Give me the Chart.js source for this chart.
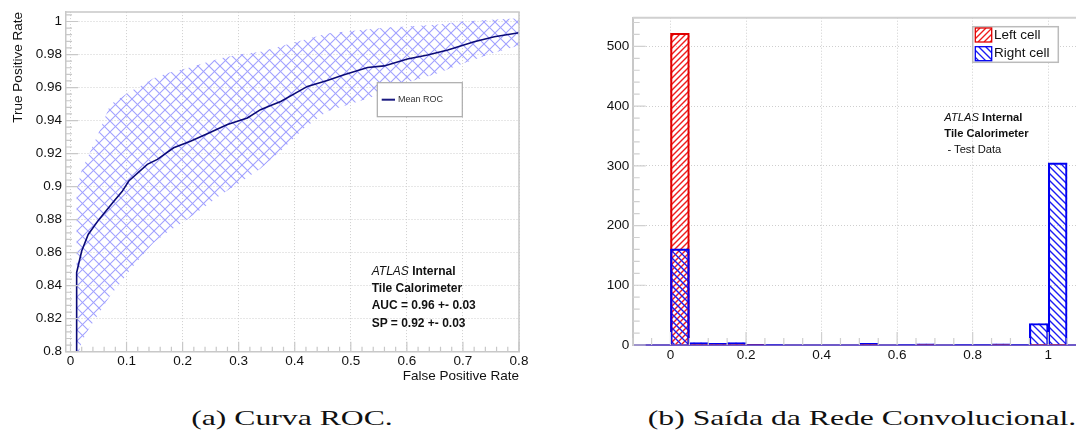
<!DOCTYPE html>
<html>
<head>
<meta charset="utf-8">
<title>Curva ROC e saída da rede</title>
<script src="https://cdn.jsdelivr.net/npm/chart.js@4.4.1/dist/chart.umd.min.js"></script>
<style>
  html, body { margin: 0; padding: 0; background: #fff; width: 1076px; height: 444px; overflow: hidden; position: relative; }
  .box { position: absolute; }
  #rocBox { left: 0; top: 0; width: 540px; height: 400px; }
  #histBox { left: 540px; top: 0; width: 560px; height: 400px; }
  .note { position: absolute; font-family: "Liberation Sans", Arial, sans-serif; color: #111; white-space: nowrap; z-index: 2; }
  .note i { font-style: italic; font-weight: normal; }
  .note b { font-weight: bold; }
  .caption { position: absolute; top: 407px; font-family: "Liberation Serif", serif; font-size: 22px; line-height: 22px; color: #111; white-space: nowrap; transform: translateX(-50%) scaleX(1.44); }
</style>
</head>
<body>
<div class="box" id="rocBox"><canvas id="rocChart"></canvas></div>
<div class="box" id="histBox"><canvas id="histChart"></canvas></div>

<div class="note" style="left:371.7px; top:263px; font-size:12px; line-height:17.2px;">
  <div><i>ATLAS</i> <b>Internal</b></div>
  <div><b>Tile Calorimeter</b></div>
  <div><b>AUC = 0.96 +- 0.03</b></div>
  <div><b>SP = 0.92 +- 0.03</b></div>
</div>
<div class="note" style="left:944.3px; top:109.3px; font-size:11.2px; line-height:16px;">
  <div><i>ATLAS</i> <b>Internal</b></div>
  <div><b>Tile Calorimeter</b></div>
  <div>&nbsp;- Test Data</div>
</div>

<div class="caption" style="left:291.5px;">(a) Curva ROC.</div>
<div class="caption" style="left:861.5px;">(b) Saída da Rede Convolucional.</div>

<script>
// ---- data ----

// Mean ROC curve
const rocFpr = [0.011, 0.011, 0.02, 0.0316, 0.0506, 0.077, 0.092, 0.104, 0.137, 0.155, 0.184, 0.214,
                0.244, 0.28, 0.3155, 0.339, 0.356, 0.375, 0.4226, 0.458, 0.488, 0.53, 0.5595, 0.601,
                0.637, 0.673, 0.72, 0.756, 0.8];
const rocTpr = [0.8, 0.848, 0.861, 0.871, 0.88, 0.891, 0.897, 0.9034, 0.9135, 0.9165, 0.9235, 0.9275,
                0.932, 0.9376, 0.9416, 0.9466, 0.949, 0.9516, 0.9607, 0.9643, 0.9677, 0.9721, 0.9731, 0.9773,
                0.9797, 0.9828, 0.9878, 0.9908, 0.9932];

// Uncertainty band (hatched)
const bandFpr = [0.011, 0.02, 0.033, 0.054, 0.071, 0.09, 0.107, 0.125, 0.148, 0.175, 0.208, 0.24,
                 0.268, 0.3, 0.339, 0.375, 0.417, 0.458, 0.518, 0.56, 0.6, 0.65, 0.7, 0.75, 0.8];
const bandUpper = [0.898, 0.91, 0.9195, 0.9355, 0.9498, 0.954, 0.9577, 0.961, 0.9657, 0.969, 0.9717, 0.975,
                   0.9777, 0.98, 0.9817, 0.985, 0.989, 0.9928, 0.9948, 0.9962, 0.997, 0.998, 1.0, 1.001, 1.002];
const bandLower = [0.795, 0.806, 0.814, 0.825, 0.834, 0.842, 0.85, 0.857, 0.866, 0.873, 0.88, 0.888,
                   0.895, 0.902, 0.911, 0.9215, 0.9355, 0.9456, 0.952, 0.957, 0.963, 0.968, 0.9745, 0.9805, 0.9855];

const rocXTicks = [0, 0.1, 0.2, 0.3, 0.4, 0.5, 0.6, 0.7, 0.8];
const rocYTicks = [0.8, 0.82, 0.84, 0.86, 0.88, 0.9, 0.92, 0.94, 0.96, 0.98, 1];

// Network output histogram (bins of 0.05)
const binCenters = [0.025, 0.075, 0.125, 0.175, 0.225, 0.275, 0.325, 0.375, 0.425, 0.475, 0.525,
                    0.575, 0.625, 0.675, 0.725, 0.775, 0.825, 0.875, 0.925, 0.975, 1.025];
const leftCell  = [522, 2, 2, 2, 1, 0, 0, 0, 0, 0, 1, 0, 0, 1, 0, 0, 0, 1, 0, 1, 1];
const rightCell = [161, 4, 3, 4, 1, 1, 0, 0, 0, 0, 3, 0, 1, 2, 0, 1, 1, 2, 1, 36, 305];

const histXTicks = [0, 0.2, 0.4, 0.6, 0.8, 1];
const histYTicks = [0, 100, 200, 300, 400, 500];

// ---- look ----
Chart.defaults.font.family = '"Liberation Sans", Arial, sans-serif';
Chart.defaults.color = '#111';

const axisGray = '#c8c8c8';
const gridGray = '#cfcfcf';

const redHatch = { color: '#f01c1c', step: 6, dir: '/', width: 1.35 };
const blueHatch = { color: '#1c1cf4', step: 7, dir: '\\', width: 1.3 };

// diagonal hatch lines over a box (caller sets clip and stroke style)
function hatchLines(ctx, box, step, dir) {
    ctx.beginPath();
    if (dir === '/') {
        const c0 = Math.floor((box.left + box.top) / step) * step;
        for (let c = c0; c <= box.right + box.bottom + step; c += step) {
            ctx.moveTo(c - box.bottom, box.bottom);
            ctx.lineTo(c - box.top, box.top);
        }
    } else {
        const c0 = Math.floor((box.left - box.bottom) / step) * step;
        for (let c = c0; c <= box.right - box.top + step; c += step) {
            ctx.moveTo(c + box.top, box.top);
            ctx.lineTo(c + box.bottom, box.bottom);
        }
    }
    ctx.stroke();
}

function hatchRect(ctx, x, y, w, h, hs) {
    ctx.save();
    ctx.beginPath();
    ctx.rect(x, y, w, h);
    ctx.clip();
    ctx.strokeStyle = hs.color;
    ctx.lineWidth = hs.width;
    hatchLines(ctx, { left: x, top: y, right: x + w, bottom: y + h }, hs.step, hs.dir);
    ctx.restore();
}

// cross-hatched band between two line datasets
const bandHatch = {
    id: 'bandHatch',
    beforeDatasetsDraw(chart, args, o) {
        const up = chart.getDatasetMeta(o.upper).data;
        const low = chart.getDatasetMeta(o.lower).data;
        const { ctx, chartArea: a } = chart;
        ctx.save();
        ctx.beginPath();
        ctx.rect(a.left, a.top, a.right - a.left, a.bottom - a.top);
        ctx.clip();
        ctx.beginPath();
        up.forEach((p, i) => (i ? ctx.lineTo(p.x, p.y) : ctx.moveTo(p.x, p.y)));
        for (let i = low.length - 1; i >= 0; i--) ctx.lineTo(low[i].x, low[i].y);
        ctx.closePath();
        ctx.clip();
        ctx.strokeStyle = o.color;
        ctx.lineWidth = o.width;
        hatchLines(ctx, a, o.step, '/');
        hatchLines(ctx, a, o.step, '\\');
        ctx.restore();
    }
};

// hatch inside every bar of the given datasets
const barHatch = {
    id: 'barHatch',
    beforeDatasetsDraw(chart, args, o) {
        const ctx = chart.ctx;
        o.sets.forEach(s => {
            chart.getDatasetMeta(s.index).data.forEach(bar => {
                const { x, y, base, width } = bar.getProps(['x', 'y', 'base', 'width'], true);
                if (base - y < 0.5) return;
                hatchRect(ctx, x - width / 2, y, width, base - y, s.hatch);
            });
        });
    }
};

// tick marks inside the frame, major + minor
function tickList(scale, minor, major) {
    const out = [];
    const k0 = Math.ceil(scale.min / minor - 1e-9);
    for (let k = k0; k * minor <= scale.max + 1e-9; k++) {
        const v = k * minor;
        const isMajor = Math.abs(v / major - Math.round(v / major)) < 1e-6;
        out.push({ pos: scale.getPixelForValue(v), major: isMajor });
    }
    return out;
}

const rootFrame = {
    id: 'rootFrame',
    afterDatasetsDraw(chart, args, o) {
        const { ctx, chartArea: a, scales: { x, y } } = chart;
        ctx.save();
        ctx.strokeStyle = o.color;
        ctx.lineWidth = o.width;
        ctx.beginPath();
        ctx.moveTo(a.left, a.top);
        ctx.lineTo(a.right, a.top);
        ctx.lineTo(a.right, a.bottom);
        ctx.stroke();

        ctx.lineWidth = 1.2;
        ctx.beginPath();
        for (const t of tickList(x, o.xMinor, o.xMajor)) {
            const len = t.major ? o.xLen[0] : o.xLen[1];
            ctx.moveTo(t.pos, a.bottom);
            ctx.lineTo(t.pos, a.bottom - len);
        }
        for (const t of tickList(y, o.yMinor, o.yMajor)) {
            const len = t.major ? o.yLen[0] : o.yLen[1];
            ctx.moveTo(a.left, t.pos);
            ctx.lineTo(a.left + len, t.pos);
        }
        ctx.stroke();
        ctx.restore();
    }
};

const boxLegend = {
    id: 'boxLegend',
    afterDraw(chart, args, o) {
        const ctx = chart.ctx;
        ctx.save();
        ctx.fillStyle = '#fff';
        ctx.fillRect(o.x, o.y, o.w, o.h);
        ctx.strokeStyle = o.border;
        ctx.lineWidth = o.borderWidth;
        ctx.strokeRect(o.x, o.y, o.w, o.h);
        ctx.font = o.font;
        ctx.textBaseline = 'middle';
        o.items.forEach((it, i) => {
            const cy = o.y + o.firstRow + i * o.rowH;
            if (it.line) {
                ctx.strokeStyle = it.line;
                ctx.lineWidth = 2;
                ctx.beginPath();
                ctx.moveTo(o.x + o.markX, cy);
                ctx.lineTo(o.x + o.markX + o.markW, cy);
                ctx.stroke();
            } else {
                hatchRect(ctx, o.x + o.markX, cy - o.markH / 2, o.markW, o.markH, it.hatch);
                ctx.strokeStyle = it.edge;
                ctx.lineWidth = 1.3;
                ctx.strokeRect(o.x + o.markX, cy - o.markH / 2, o.markW, o.markH);
            }
            ctx.fillStyle = o.textColor;
            ctx.fillText(it.label, o.x + o.textX, cy);
        });
        ctx.restore();
    }
};

function tickFont() {
    return { size: 13.5 };
}

// ---- ROC chart ----
function createRocChart() {
    const ctx = document.getElementById('rocChart');
    const pts = (xs, ys) => xs.map((x, i) => ({ x: x, y: ys[i] }));

    new Chart(ctx, {
        type: 'line',
        data: {
            datasets: [
                {
                    label: 'band up',
                    data: pts(bandFpr, bandUpper),
                    borderColor: 'transparent',
                    borderWidth: 0,
                    pointRadius: 0,
                    fill: false
                },
                {
                    label: 'band low',
                    data: pts(bandFpr, bandLower),
                    borderColor: 'transparent',
                    borderWidth: 0,
                    pointRadius: 0,
                    fill: false
                },
                {
                    label: 'Mean ROC',
                    data: pts(rocFpr, rocTpr),
                    borderColor: '#0b0b78',
                    borderWidth: 1.6,
                    pointRadius: 0,
                    fill: false,
                    tension: 0
                }
            ]
        },
        options: {
            responsive: true,
            maintainAspectRatio: false,
            animation: false,
            layout: { padding: { left: 0, top: 10, right: 21, bottom: 11.3 } },
            scales: {
                x: {
                    type: 'linear',
                    min: -0.008,
                    max: 0.8,
                    afterBuildTicks: s => { s.ticks = rocXTicks.map(v => ({ value: v })); },
                    afterFit: s => { s.height = 37; },
                    ticks: { padding: 1, font: tickFont(), color: '#111', maxRotation: 0, callback: v => String(v) },
                    grid: { color: gridGray, lineWidth: 1, drawTicks: false },
                    border: { display: true, color: axisGray, width: 1.5, dash: [1, 2] },
                    title: { display: true, text: 'False Positive Rate', align: 'end', color: '#111',
                             font: { size: 13.5 }, padding: { top: 0, bottom: 4 } }
                },
                y: {
                    min: 0.8,
                    max: 1.0057,
                    afterBuildTicks: s => { s.ticks = rocYTicks.map(v => ({ value: v })); },
                    afterFit: s => { s.width = 66; },
                    ticks: { padding: 4, font: tickFont(), color: '#111', callback: v => String(v) },
                    grid: { color: gridGray, lineWidth: 1, drawTicks: false },
                    border: { display: true, color: axisGray, width: 1.5, dash: [1, 2] },
                    title: { display: true, text: 'True Positive Rate', align: 'end', color: '#111',
                             font: { size: 13.5 }, padding: { top: 10, bottom: 0 } }
                }
            },
            plugins: {
                legend: { display: false },
                tooltip: { enabled: false },
                bandHatch: { upper: 0, lower: 1, color: '#a2a2ff', width: 1.1, step: 11 },
                rootFrame: { color: axisGray, width: 1.5, xMinor: 0.02, xMajor: 0.1, xLen: [10, 5],
                             yMinor: 0.004, yMajor: 0.02, yLen: [12, 6] },
                boxLegend: {
                    x: 377.3, y: 82.7, w: 85, h: 34, border: '#aaa', borderWidth: 1.2,
                    font: '9px "Liberation Sans", Arial, sans-serif', textColor: '#333',
                    firstRow: 17, rowH: 0, markX: 4.4, markW: 13.3, markH: 0, textX: 20.7,
                    items: [{ line: '#1a1a80', label: 'Mean ROC' }]
                }
            }
        },
        plugins: [bandHatch, rootFrame, boxLegend]
    });
}

// ---- histogram chart ----
function createHistChart() {
    const ctx = document.getElementById('histChart');
    const pts = (xs, ys) => xs.map((x, i) => ({ x: x, y: ys[i] }));

    new Chart(ctx, {
        type: 'bar',
        data: {
            datasets: [
                {
                    label: 'Left cell',
                    data: pts(binCenters, leftCell),
                    backgroundColor: 'rgba(0,0,0,0)',
                    borderColor: '#e00000',
                    borderWidth: 1.5,
                    order: 2
                },
                {
                    label: 'Right cell',
                    data: pts(binCenters, rightCell),
                    backgroundColor: 'rgba(0,0,0,0)',
                    borderColor: '#0000f0',
                    borderWidth: 1.5,
                    order: 1
                }
            ]
        },
        options: {
            responsive: true,
            maintainAspectRatio: false,
            animation: false,
            grouped: false,
            barPercentage: 1,
            categoryPercentage: 1,
            layout: { padding: { left: 0, top: 17.7, right: 14, bottom: 30 } },
            scales: {
                x: {
                    type: 'linear',
                    min: -0.1,
                    max: 1.1,
                    offset: false,
                    afterBuildTicks: s => { s.ticks = histXTicks.map(v => ({ value: v })); },
                    afterFit: s => { s.height = 25; },
                    ticks: { padding: 2, font: tickFont(), color: '#111', maxRotation: 0, callback: v => String(v) },
                    grid: { color: gridGray, lineWidth: 1, drawTicks: false, offset: false },
                    border: { display: true, color: '#6f5ac8', width: 2, dash: [1, 2] }
                },
                y: {
                    min: 0,
                    max: 548,
                    afterBuildTicks: s => { s.ticks = histYTicks.map(v => ({ value: v })); },
                    afterFit: s => { s.width = 92.7; },
                    ticks: { padding: 3.5, font: tickFont(), color: '#111', callback: v => String(v) },
                    grid: { color: gridGray, lineWidth: 1, drawTicks: false },
                    border: { display: true, color: axisGray, width: 2, dash: [1, 2] }
                }
            },
            plugins: {
                legend: { display: false },
                tooltip: { enabled: false },
                barHatch: { sets: [{ index: 0, hatch: redHatch }, { index: 1, hatch: blueHatch }] },
                rootFrame: { color: '#d0d0d0', width: 2, xMinor: 0.05, xMajor: 0.2, xLen: [13, 7],
                             yMinor: 20, yMajor: 100, yLen: [13, 7] },
                boxLegend: {
                    x: 432.7, y: 26.7, w: 85.6, h: 35.6, border: '#bbb', borderWidth: 1.5,
                    font: '13.5px "Liberation Sans", Arial, sans-serif', textColor: '#111',
                    firstRow: 8.3, rowH: 18.7, markX: 2.6, markW: 16.4, markH: 14, textX: 21.3,
                    items: [
                        { hatch: redHatch, edge: '#e00000', label: 'Left cell' },
                        { hatch: blueHatch, edge: '#0000f0', label: 'Right cell' }
                    ]
                }
            }
        },
        plugins: [barHatch, rootFrame, boxLegend]
    });
}

createRocChart();
createHistChart();
</script>
</body>
</html>
